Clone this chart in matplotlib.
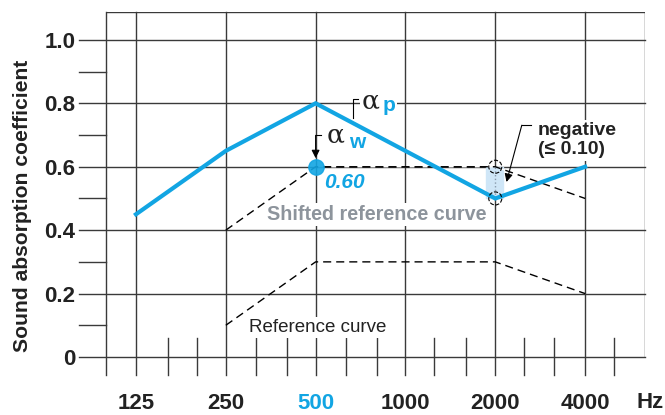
import numpy as np
import matplotlib
matplotlib.use("Agg")
import matplotlib.pyplot as plt

# ---------------- data ----------------
freqs = [125, 250, 500, 1000, 2000, 4000]
freq_labels = ["125", "250", "500", "1000", "2000", "4000"]
alpha_p = [0.45, 0.65, 0.80, 0.65, 0.50, 0.60]

ref_freqs = [250, 500, 1000, 2000, 4000]
ref_curve = [0.10, 0.30, 0.30, 0.30, 0.20]
shifted_curve = [0.40, 0.60, 0.60, 0.60, 0.50]

alpha_w = 0.60
alpha_w_freq = 500
neg_freq = 2000
neg_low, neg_high = 0.50, 0.60

y_major = [0, 0.2, 0.4, 0.6, 0.8, 1.0]
y_major_labels = ["0", "0.2", "0.4", "0.6", "0.8", "1.0"]
y_minor = [0.1, 0.3, 0.5, 0.7, 0.9]
third_octaves = [160, 200, 315, 400, 630, 800, 1250, 1600, 2500, 3150, 5000]

BLUE = "#12a5e3"
GRID = "#3a3a3a"
plt.rcParams["font.family"] = ["Liberation Sans", "DejaVu Sans"]

fig = plt.figure(figsize=(6.65, 4.15), dpi=100)
ax = fig.add_axes([106 / 665, 58 / 415, 539 / 665, 345 / 415])
ax.set_xscale("log", base=2)
ax.set_xlim(125 * 2 ** (-1 / 3), 4000 * 2 ** (2 / 3))
ax.set_ylim(0, 1.088)
for s in ax.spines.values():
    s.set_visible(False)
ax.minorticks_off()

ytr = ax.get_yaxis_transform()
xtr = ax.get_xaxis_transform()

# ---------------- grid / frame ----------------
for y in y_major:
    ax.plot([-0.05, 1], [y, y], transform=ytr, color=GRID, lw=1, clip_on=False, zorder=1)
for y in y_minor:
    ax.plot([-0.05, 0], [y, y], transform=ytr, color=GRID, lw=1, clip_on=False, zorder=1)
ax.plot([0, 1], [1, 1], transform=ax.transAxes, color=GRID, lw=1, zorder=1)
ax.plot([1, 1], [0, 1], transform=ax.transAxes, color=GRID, lw=1, zorder=1)
ax.plot([0, 0], [-0.052, 1], transform=ax.transAxes, color=GRID, lw=1, clip_on=False, zorder=1)
for f in freqs:
    ax.plot([f, f], [-0.052, 1], transform=xtr, color=GRID, lw=1, clip_on=False, zorder=1)
for f in third_octaves:
    ax.plot([f, f], [-0.052, 0.055], transform=xtr, color=GRID, lw=1, clip_on=False, zorder=1)

# ---------------- ticks ----------------
ax.set_yticks(y_major, y_major_labels)
ax.set_xticks(freqs, freq_labels)
ax.tick_params(axis="y", length=0, pad=22, labelsize=16)
ax.tick_params(axis="x", length=0, pad=26, labelsize=16)
for lab in ax.get_yticklabels() + ax.get_xticklabels():
    lab.set_fontweight("bold")
    lab.set_color("#222222")
ax.get_xticklabels()[freqs.index(500)].set_color(BLUE)
fig.text(650 / 665, 1 - 402 / 415, "Hz", ha="center", va="center",
         fontsize=16, fontweight="bold", color="#222222")
fig.text(23 / 665, 0.504, "Sound absorption coefficient", rotation=90,
         ha="center", va="center", fontsize=15.2, fontweight="bold", color="#222222")

# ---------------- curves ----------------
ax.plot(ref_freqs, ref_curve, color="black", lw=1, dashes=(5.8, 3.6), zorder=4)
ax.plot(ref_freqs, shifted_curve, color="black", lw=1, dashes=(5.8, 3.6),
        gapcolor="white", zorder=4)
ax.fill_between([1869, 2124], neg_low, neg_high, color="#cfe6f7", zorder=3)
ax.plot([neg_freq, neg_freq], [neg_low, neg_high], color="#8899aa", lw=1, ls=":", zorder=3)
ax.plot(freqs, alpha_p, color=BLUE, lw=3, zorder=5, solid_joinstyle="miter")
ax.scatter([neg_freq, neg_freq], [neg_low, neg_high], s=88, facecolors="none",
           edgecolors="black", linewidths=0.8, linestyles="--", zorder=6)
ax.plot([alpha_w_freq], [alpha_w], marker="o", ms=11, color=BLUE, alpha=0.9, zorder=6)

# ---------------- annotations ----------------
wbox = dict(facecolor="white", edgecolor="none", pad=1.5)
ax.text(765, 0.807, "\u03b1", ha="center", va="center", fontsize=19,
        family=["DejaVu Serif"], color="#222222", bbox=wbox, zorder=2)
ax.text(880, 0.792, "p", ha="center", va="center", fontsize=15, fontweight="bold",
        color=BLUE, bbox=wbox, zorder=2)
ax.plot([666, 666, 692], [0.753, 0.813, 0.813], color="black", lw=0.8, zorder=6)

ax.text(584, 0.700, "\u03b1", ha="center", va="center", fontsize=19,
        family=["DejaVu Serif"], color="#222222", zorder=2)
ax.text(687, 0.677, "w", ha="center", va="center", fontsize=15, fontweight="bold",
        color=BLUE, zorder=2)
ax.plot([500, 520], [0.699, 0.699], color="black", lw=0.8, zorder=6)
ax.annotate("", xy=(500, 0.627), xytext=(500, 0.699),
            arrowprops=dict(arrowstyle="-|>", color="black", lw=0.8,
                            mutation_scale=12, shrinkA=0, shrinkB=0), zorder=6)

ax.text(536, 0.551, "0.60", ha="left", va="center", fontsize=15, fontweight="bold",
        fontstyle="italic", color=BLUE, zorder=2)
ax.text(801, 0.450, "Shifted reference curve", ha="center", va="center", fontsize=14.2,
        fontweight="bold", color="#8d949c", bbox=wbox, zorder=2)
ax.text(508, 0.094, "Reference curve", ha="center", va="center", fontsize=13.5,
        color="#222222", bbox=wbox, zorder=2)

ax.text(2776, 0.684, "negative\n(\u2264 0.10)", ha="left", va="center", fontsize=14,
        fontweight="bold", color="#222222", linespacing=1.2, bbox=wbox, zorder=2)
ax.plot([2630, 2454], [0.731, 0.731], color="black", lw=0.8, zorder=6)
ax.annotate("", xy=(2181, 0.552), xytext=(2454, 0.731),
            arrowprops=dict(arrowstyle="-|>", color="black", lw=0.8,
                            mutation_scale=12, shrinkA=0, shrinkB=0), zorder=6)

fig.savefig("out.png", dpi=100)
